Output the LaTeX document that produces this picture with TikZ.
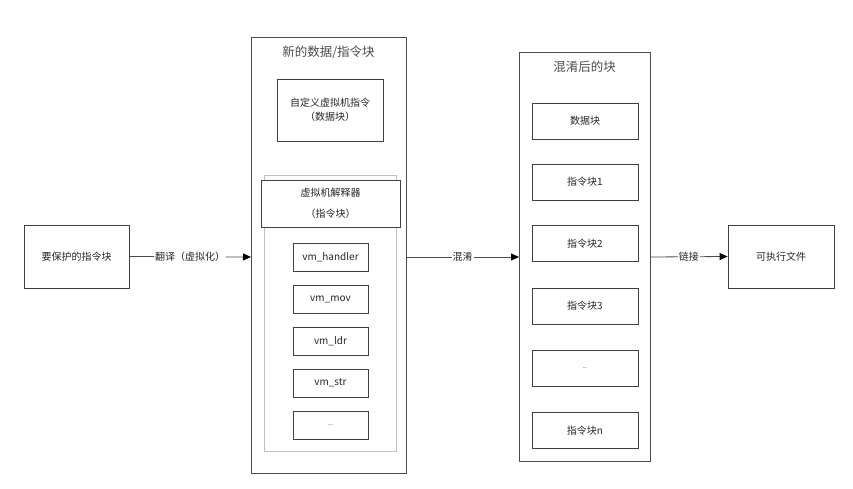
\documentclass[tikz,border=0pt]{standalone}
\usepackage{fontspec}
\setmainfont{Liberation Sans}
\newfontfamily\cjk{Noto Sans CJK SC}
\usetikzlibrary{arrows.meta}
\begin{document}
\begin{tikzpicture}[x=1pt,y=-1pt,
  box/.style={draw=black!75,line width=0.8pt,fill=white,inner sep=0pt,font=\cjk\fontsize{10}{14}\selectfont,align=center,text=black!85},
  cont/.style={draw=black!70,line width=0.9pt,fill=white},
  inner/.style={draw=black!25,line width=0.8pt,fill=white},
  conn/.style={draw=black!70,line width=0.8pt,-{Triangle[length=8pt,width=7pt,fill=black,color=black]}},
  lbl/.style={fill=white,inner sep=1pt,font=\cjk\fontsize{10}{12}\selectfont,text=black!85},
  ttl/.style={font=\cjk\fontsize{12.5}{14}\selectfont,text=black!70}]
\useasboundingbox (0,0) rectangle (853,489);
% left box
\node[box,minimum width=105pt,minimum height=63pt] (src) at (76.5,256.5) {要保护的指令块};
% container 1
\draw[cont] (251,37) rectangle (406,473);
\coordinate (c1l) at (251,257);
\coordinate (c1r) at (406,257);
\node[ttl] (t1) at (328.5,52) {新的数据/指令块};
\node[box,minimum width=106pt,minimum height=62pt] (data) at (330,110) {自定义虚拟机指令\\（数据块）};
\draw[inner] (264,175) rectangle (396,451);
\node[box,minimum width=139pt,minimum height=47pt,font=\cjk\fontsize{10}{21}\selectfont] (interp) at (330.5,203.5) {虚拟机解释器\\（指令块）};
\node[box,minimum width=75pt,minimum height=28pt] (h) at (330.5,257) {vm\_handler};
\node[box,minimum width=75pt,minimum height=28pt] (mov) at (330.5,299) {vm\_mov};
\node[box,minimum width=75pt,minimum height=28pt] (ldr) at (330.5,341) {vm\_ldr};
\node[box,minimum width=75pt,minimum height=28pt] (str) at (330.5,383) {vm\_str};
\node[box,minimum width=75pt,minimum height=28pt] (dots1) at (330.5,425) {\fontsize{6}{7}\selectfont ...};
% container 2
\draw[cont] (519,52) rectangle (650,461);
\coordinate (c2l) at (519,257);
\coordinate (c2r) at (650,257);
\node[ttl] (t2) at (584.5,67) {混淆后的块};
\node[box,minimum width=106pt,minimum height=36pt] (b0) at (585,121) {数据块};
\node[box,minimum width=106pt,minimum height=36pt] (b1) at (585,182) {指令块1};
\node[box,minimum width=106pt,minimum height=36pt] (b2) at (585,243.5) {指令块2};
\node[box,minimum width=106pt,minimum height=36pt] (b3) at (585,306) {指令块3};
\node[box,minimum width=106pt,minimum height=36pt] (b4) at (585,368) {\fontsize{6}{7}\selectfont ...};
\node[box,minimum width=106pt,minimum height=36pt] (bn) at (585,430.5) {指令块n};
% executable
\node[box,minimum width=106pt,minimum height=63pt] (exe) at (781,256.5) {可执行文件};
% connectors
\draw[conn] (src.east) -- node[lbl,pos=0.5] {翻译（虚拟化）} (c1l);
\draw[conn] (c1r) -- node[lbl,pos=0.5] {混淆} (c2l);
\draw[conn] (c2r) -- node[lbl,pos=0.5] {链接} (exe.west);
\end{tikzpicture}
\end{document}
